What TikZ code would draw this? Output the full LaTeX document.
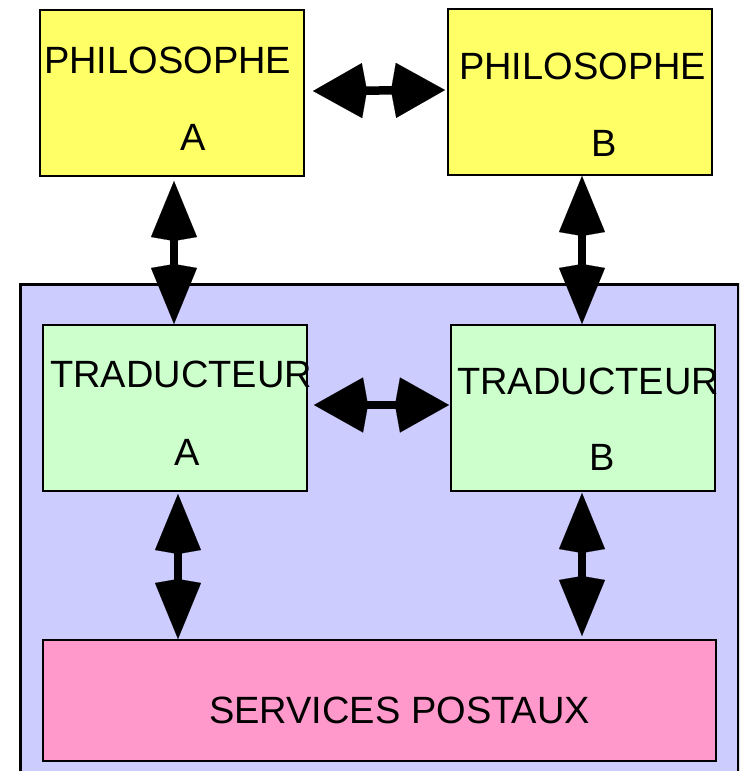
\documentclass[tikz,border=0pt]{standalone}
\usepackage{fontspec}
\setmainfont{Liberation Sans}
\usetikzlibrary{arrows.meta}

\definecolor{philfill}{HTML}{FFFF66}
\definecolor{tradfill}{HTML}{CCFFCC}
\definecolor{layerfill}{HTML}{CCCCFF}
\definecolor{postfill}{HTML}{FF99CC}

\tikzset{
  box/.style={draw=black, line width=2pt, rectangle, inner sep=0pt},
  philbox/.style={box, fill=philfill, minimum width=264pt, minimum height=166pt},
  tradbox/.style={box, fill=tradfill, minimum width=264pt, minimum height=166pt},
  postbox/.style={box, fill=postfill, minimum width=673pt, minimum height=121pt},
  layerbox/.style={box, fill=layerfill, line width=2.5pt},
  lbl/.style={anchor=base west, inner sep=0pt, font=\fontsize{38}{40}\selectfont},
  hlink/.style={line width=8.5pt,
    {Kite[length=54pt, width=55pt, inset=5pt, line width=0.1pt]}-{Kite[length=54pt, width=55pt, inset=5pt, line width=0.1pt]}},
  vlink/.style={line width=8.5pt,
    {Kite[length=60pt, width=46pt, inset=4pt, line width=0.1pt]}-{Kite[length=60pt, width=46pt, inset=4pt, line width=0.1pt]}},
}

\begin{document}
\begin{tikzpicture}[x=1pt, y=-1pt]
  \useasboundingbox (0,0) rectangle (739,771);
  \clip (0,0) rectangle (739,771);

  % translation layer background
  \node[layerbox, minimum width=718pt, minimum height=520pt, anchor=north west] (layer) at (19,283) {};

  % philosophers
  \node[philbox] (phA) at (172,93) {};
  \node[philbox] (phB) at (580,92) {};
  \node[lbl] (phAt) at (44,73) {PHILOSOPHE};
  \node[lbl] (phAl) at (180,150) {A};
  \node[lbl] (phBt) at (459,79) {PHILOSOPHE};
  \node[lbl] (phBl) at (591,156) {B};

  % translators
  \node[tradbox] (trA) at (175,408) {};
  \node[tradbox] (trB) at (583,408) {};
  \node[lbl] (trAt) at (50,387) {TRADUCTEUR};
  \node[lbl] (trAl) at (174,465) {A};
  \node[lbl] (trBt) at (457,394) {TRADUCTEUR};
  \node[lbl] (trBl) at (589,470) {B};

  % postal services
  \node[postbox] (post) at (379.5,700.5) {};
  \node[lbl] (postt) at (209,723) {SERVICES POSTAUX};

  % links
  \draw[hlink] ([xshift=8pt,yshift=2pt]phA.east) -- ([xshift=-2pt,yshift=2pt]phB.west);
  \draw[hlink] ([xshift=6pt,yshift=3pt]trA.east) -- ([xshift=-1pt,yshift=3pt]trB.west);
  \draw[vlink] ([xshift=2pt,yshift=-4pt]phA.south) -- ([xshift=-1pt]trA.north);
  \draw[vlink] ([xshift=2pt]phB.south) -- ([xshift=-1pt]trB.north);
  \draw[vlink] ([xshift=3pt,yshift=-2pt]trA.south) -- ([xshift=3pt]trA.south |- post.north);
  \draw[vlink] ([xshift=-1pt,yshift=-1pt]trB.south) -- ([xshift=-1pt,yshift=3pt]trB.south |- post.north);
\end{tikzpicture}
\end{document}
